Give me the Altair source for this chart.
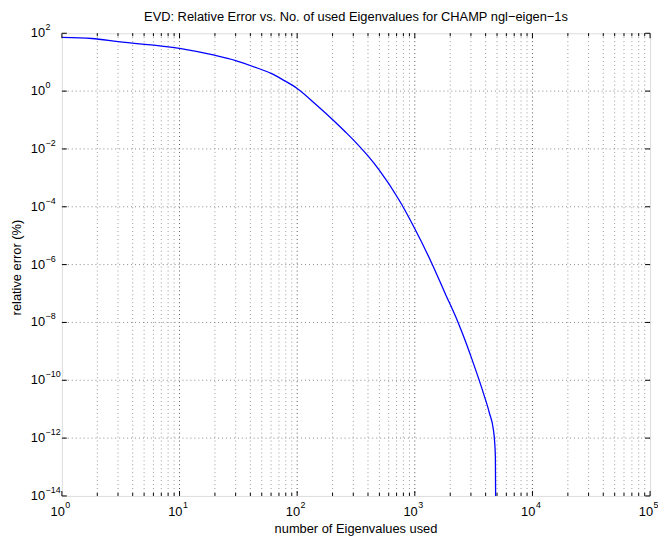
import altair as alt
import pandas as pd

# ---- data ----
n_eig = [1, 1.8, 3, 10, 19.8, 30, 45.7, 60, 76.5, 100, 146, 208, 260, 316, 400, 497,
         731, 1000, 1396, 1800, 2333, 2700, 3020, 3864, 4305, 4656, 4742,
         4842, 4864]
rel_err = [72, 66, 51, 30, 17.4, 11.4, 6.3, 4.1, 2.4, 1.23, 0.33, 0.089, 3.7e-2, 1.66e-2,
           5.75e-3, 1.9e-3, 1.78e-4, 1.74e-5, 1.1e-6, 1.07e-7, 1e-8, 2.2e-9,
           6.2e-10, 3.2e-11, 7.4e-12, 1.95e-12, 1e-12, 2.2e-13, 1e-14]

x_major = [1, 10, 100, 1000, 10000, 100000]
x_exp = ["0", "1", "2", "3", "4", "5"]
x_minor = [m * 10 ** d for d in range(5) for m in range(2, 10)]

y_major = [1e2, 1e0, 1e-2, 1e-4, 1e-6, 1e-8, 1e-10, 1e-12, 1e-14]
y_exp = ["2", "0", "\u22122", "\u22124", "\u22126", "\u22128", "\u221210", "\u221212", "\u221214"]

title = ["EVD: Relative Error vs. No. of used Eigenvalues for CHAMP ngl\u2212eigen\u22121s"]
x_title = ["number of Eigenvalues used"]
y_title = ["relative error (%)"]

W, H = 595, 468
FONT = "Liberation Sans"

curve = pd.DataFrame({"n": n_eig, "err": rel_err})
xmaj = pd.DataFrame({"v": x_major, "e": x_exp})
xmin = pd.DataFrame({"v": x_minor})
ymaj = pd.DataFrame({"v": y_major, "e": y_exp})

xs = alt.Scale(type="log", domain=[1, 1e5], nice=False)
ys = alt.Scale(type="log", domain=[1e-14, 1e2], nice=False)

def X(field="v"):
    return alt.X(f"{field}:Q", scale=xs, axis=None)

def Y(field="v"):
    return alt.Y(f"{field}:Q", scale=ys, axis=None)

# grid lines
vgrid_minor = alt.Chart(xmin).mark_rule(color="#9a9a9a", strokeDash=[1, 3], strokeWidth=1).encode(x=X())
vgrid_major = alt.Chart(xmaj).transform_filter("datum.v > 1 && datum.v < 100000").mark_rule(
    color="#555555", strokeDash=[1, 3], strokeWidth=1).encode(x=X())
hgrid = alt.Chart(ymaj).transform_filter("datum.v < 100 && datum.v > 1e-14").mark_rule(
    color="#888888", strokeDash=[1, 3], strokeWidth=1).encode(y=Y())

# the curve
line = alt.Chart(curve).mark_line(color="#0000ff", strokeWidth=1.3, interpolate="monotone", clip=True).encode(
    x=X("n"), y=Y("err"))

# inside ticks
tick_col = "black"
xt_bot_major = alt.Chart(xmaj).mark_rule(color=tick_col).encode(x=X(), y=alt.value(H), y2=alt.value(H - 5))
xt_top_major = alt.Chart(xmaj).mark_rule(color=tick_col).encode(x=X(), y=alt.value(0), y2=alt.value(5))
xt_bot_minor = alt.Chart(xmin).mark_rule(color=tick_col).encode(x=X(), y=alt.value(H), y2=alt.value(H - 3))
xt_top_minor = alt.Chart(xmin).mark_rule(color=tick_col).encode(x=X(), y=alt.value(0), y2=alt.value(3))
yt_left = alt.Chart(ymaj).mark_rule(color=tick_col).encode(y=Y(), x=alt.value(0), x2=alt.value(5))
yt_right = alt.Chart(ymaj).mark_rule(color=tick_col).encode(y=Y(), x=alt.value(W), x2=alt.value(W - 5))

# tick labels (10 with superscript exponent)
xl_base = alt.Chart(xmaj).mark_text(text="10", align="right", baseline="alphabetic", dx=3,
                                    font=FONT, fontSize=13, color="black").encode(x=X(), y=alt.value(H + 20))
xl_exp = alt.Chart(xmaj).mark_text(align="left", baseline="alphabetic", dx=3.5,
                                   font=FONT, fontSize=9, color="black").encode(x=X(), y=alt.value(H + 12.5), text="e:N")
yl_base = alt.Chart(ymaj).mark_text(text="10", align="right", baseline="middle",
                                    font=FONT, fontSize=13, color="black").encode(y=Y(), x=alt.value(-17))
yl_exp = alt.Chart(ymaj).mark_text(align="left", baseline="middle", dy=-6,
                                   font=FONT, fontSize=9, color="black").encode(y=Y(), x=alt.value(-16.5), text="e:N")

# titles
ttl = alt.Chart(pd.DataFrame({"t": title})).mark_text(
    align="center", baseline="alphabetic", font=FONT, fontSize=13, color="black").encode(
    x=alt.value(W / 2), y=alt.value(-12), text="t:N")
xt = alt.Chart(pd.DataFrame({"t": x_title})).mark_text(
    align="center", baseline="alphabetic", font=FONT, fontSize=13, color="black").encode(
    x=alt.value(W / 2), y=alt.value(H + 37.5), text="t:N")
yt = alt.Chart(pd.DataFrame({"t": y_title})).mark_text(
    align="center", baseline="middle", angle=270, font=FONT, fontSize=13, color="black").encode(
    x=alt.value(-45), y=alt.value(H / 2 + 3), text="t:N")

chart = alt.layer(
    vgrid_minor, vgrid_major, hgrid, line,
    xt_bot_major, xt_top_major, xt_bot_minor, xt_top_minor, yt_left, yt_right,
    xl_base, xl_exp, yl_base, yl_exp, ttl, xt, yt,
).properties(
    width=W, height=H,
    autosize=alt.AutoSizeParams(type="none"),
    padding={"left": 54.5, "top": 22.5, "right": 8, "bottom": 41.5},
).configure_view(stroke="black", strokeWidth=1).configure(background="white")

chart.save("out.html", embed_options={"renderer": "svg", "actions": False})
